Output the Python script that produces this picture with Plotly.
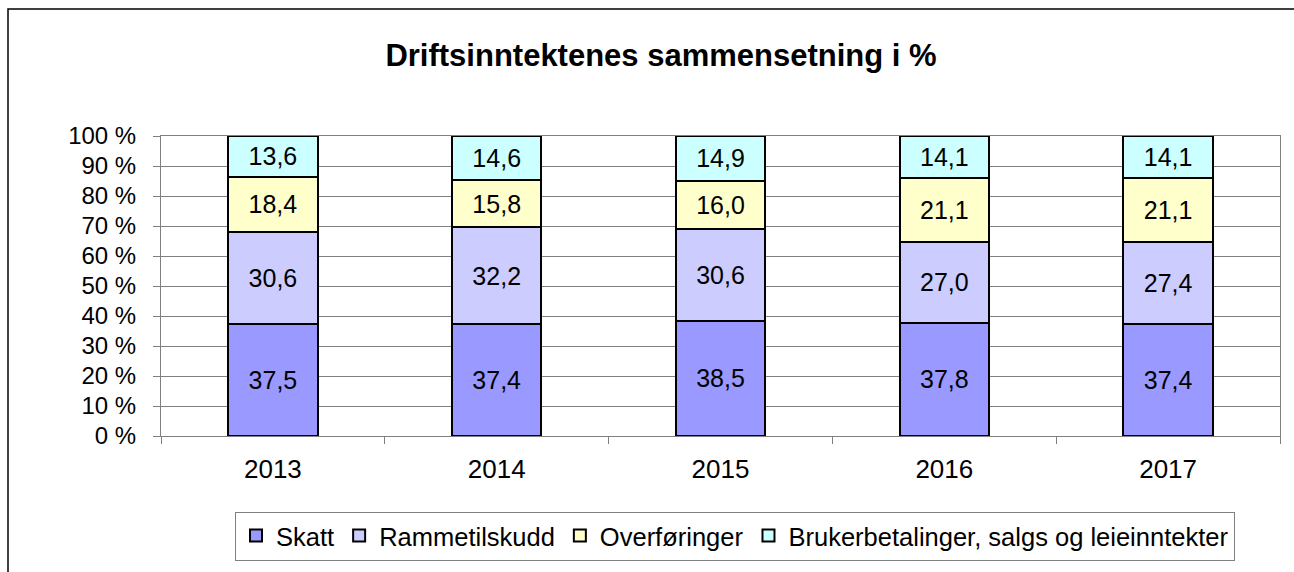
import plotly.graph_objects as go

years = ["2013", "2014", "2015", "2016", "2017"]
skatt = [37.5, 37.4, 38.5, 37.8, 37.4]
rammetilskudd = [30.6, 32.2, 30.6, 27.0, 27.4]
overforinger = [18.4, 15.8, 16.0, 21.1, 21.1]
brukerbetalinger = [13.6, 14.6, 14.9, 14.1, 14.1]

series = [
    ("Skatt", skatt, "#9999FF"),
    ("Rammetilskudd", rammetilskudd, "#CCCCFF"),
    ("Overføringer", overforinger, "#FFFFCC"),
    ("Brukerbetalinger, salgs og leieinntekter", brukerbetalinger, "#CCFFFF"),
]

FONT = "Arial, Liberation Sans, sans-serif"

fig = go.Figure()
for name, vals, color in series:
    fig.add_trace(go.Bar(
        name=name, x=years, y=vals,
        marker=dict(color=color, line=dict(color="black", width=2)),
        text=[f"{v:.1f}".replace(".", ",") for v in vals],
        textposition="inside", insidetextanchor="middle", textangle=0,
        constraintext="none",
        textfont=dict(family=FONT, size=25, color="black"),
        hoverinfo="skip",
    ))

W, H = 1294, 572
L, R, T, B = 161, 1280, 136, 436
pw, ph = R - L, B - T

def px(x):
    return (x - L) / pw

def py(y):
    return (B - y) / ph

fig.update_layout(
    width=W, height=H,
    barmode="stack", barnorm="percent", bargap=0.6,
    margin=dict(l=L, r=W - R, t=T, b=H - B, autoexpand=False),
    paper_bgcolor="white", plot_bgcolor="white",
    font=dict(family=FONT, size=24, color="black"),
    title=dict(text="<b>Driftsinntektenes sammensetning i %</b>",
               x=px(661), xref="paper", xanchor="center",
               y=1 - 55 / H, yref="container", yanchor="middle",
               font=dict(family=FONT, size=31, color="black")),
    showlegend=True,
    legend=dict(orientation="h", x=px(735), xanchor="center",
                y=py(536), yanchor="middle",
                bordercolor="#808080", borderwidth=1,
                font=dict(family=FONT, size=25.5, color="black"),
                traceorder="normal", itemwidth=30),
    xaxis=dict(type="category", showline=True, linecolor="#808080", linewidth=1,
               mirror=True, ticks="outside", tickson="boundaries", ticklen=7,
               tickcolor="#808080", showgrid=False, ticklabelstandoff=10,
               tickfont=dict(family=FONT, size=26)),
    yaxis=dict(range=[0, 100], dtick=10, ticksuffix=" %", showline=True,
               linecolor="#808080", linewidth=1, mirror=True,
               ticks="outside", ticklen=7, tickcolor="#808080",
               showgrid=True, gridcolor="#808080", gridwidth=1,
               ticklabelstandoff=12,
               tickfont=dict(family=FONT, size=24), zeroline=False),
    shapes=[dict(type="rect", xref="paper", yref="paper",
                 x0=px(8), x1=px(1320), y0=py(600), y1=py(9),
                 line=dict(color="black", width=1.5), layer="below")],
)

fig.write_html("out.html", config={"displayModeBar": False},
               post_script="document.body.style.margin='0';")
